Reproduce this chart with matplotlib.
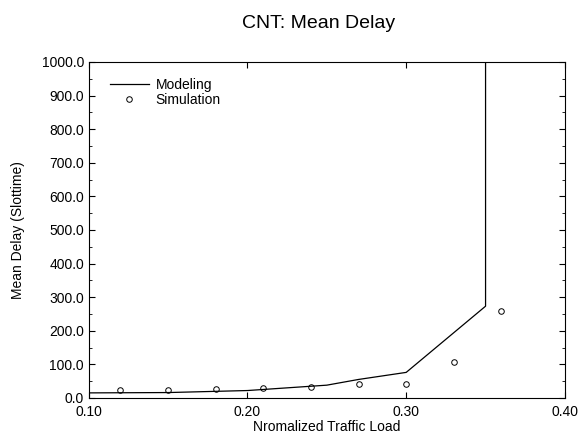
import matplotlib
matplotlib.use("Agg")
import matplotlib.pyplot as plt
from matplotlib.ticker import FormatStrFormatter, MultipleLocator

plt.rcParams['font.family'] = ['Liberation Sans', 'DejaVu Sans']

# modeling curve (goes vertical at saturation)
model_load = [0.10, 0.15, 0.20, 0.25, 0.27, 0.30, 0.35, 0.35]
model_delay = [15, 16, 22, 38, 55, 76, 273, 1000]

# simulation points
sim_load = [0.12, 0.15, 0.18, 0.21, 0.24, 0.27, 0.30, 0.33, 0.36]
sim_delay = [23, 25, 26, 30, 32, 40, 42, 107, 258]

fig = plt.figure(figsize=(5.8, 4.33), dpi=100)
ax = fig.add_axes([0.153, 0.081, 0.821, 0.776])

ax.plot(model_load, model_delay, color='black', lw=0.9, label='Modeling')
ax.plot(sim_load, sim_delay, ls='none', marker='o', ms=4, mfc='none',
        mec='black', mew=0.7, label='Simulation')

ax.set_xlim(0.10, 0.40)
ax.set_ylim(0, 1000)
ax.xaxis.set_major_locator(MultipleLocator(0.1))
ax.yaxis.set_major_locator(MultipleLocator(100))
ax.yaxis.set_minor_locator(MultipleLocator(50))
ax.xaxis.set_major_formatter(FormatStrFormatter('%.2f'))
ax.yaxis.set_major_formatter(FormatStrFormatter('%.1f'))
ax.tick_params(which='both', direction='in', top=True, right=True, labelsize=10)
ax.tick_params(which='major', length=4)
ax.tick_params(which='minor', length=2)
ax.tick_params(axis='x', pad=5)
for s in ax.spines.values():
    s.set_linewidth(0.8)

ax.set_xlabel('Nromalized Traffic Load', fontsize=10, labelpad=1)
ax.set_ylabel('Mean Delay (Slottime)', fontsize=10, labelpad=12)
fig.text(0.55, 0.935, 'CNT: Mean Delay', ha='center', fontsize=14)

ax.legend(loc='upper left', bbox_to_anchor=(0.015, 0.994), frameon=False,
          fontsize=10, handlelength=2.8, handletextpad=0.5,
          labelspacing=0.1, borderaxespad=0.6)

fig.savefig('out.png', dpi=100)
